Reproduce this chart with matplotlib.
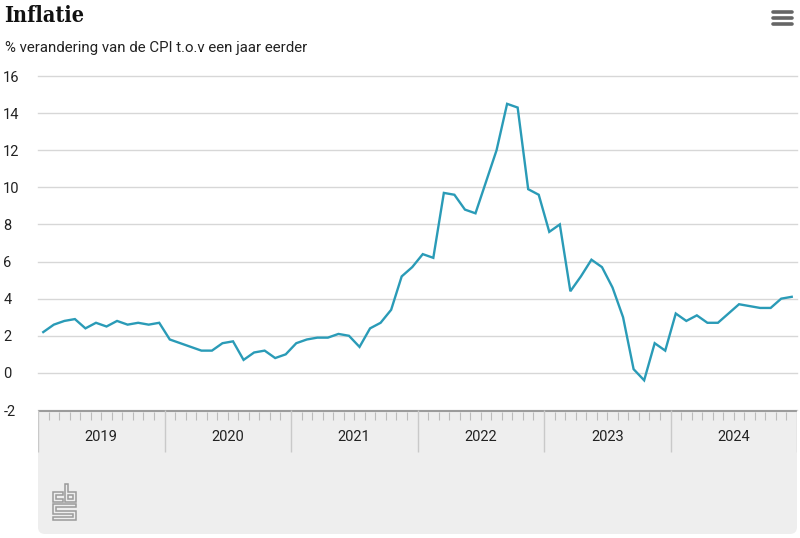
import matplotlib
matplotlib.use("Agg")
import matplotlib.pyplot as plt
import numpy as np
from matplotlib.patches import FancyBboxPatch, Rectangle, Polygon
from matplotlib.transforms import Affine2D

# CPI, % change on a year earlier, monthly Jan 2019 .. Dec 2024
years = [2019, 2020, 2021, 2022, 2023, 2024]
cpi_2019 = [2.2, 2.6, 2.8, 2.9, 2.4, 2.7, 2.5, 2.8, 2.6, 2.7, 2.6, 2.7]
cpi_2020 = [1.8, 1.6, 1.4, 1.2, 1.2, 1.6, 1.7, 0.7, 1.1, 1.2, 0.8, 1.0]
cpi_2021 = [1.6, 1.8, 1.9, 1.9, 2.1, 2.0, 1.4, 2.4, 2.7, 3.4, 5.2, 5.7]
cpi_2022 = [6.4, 6.2, 9.7, 9.6, 8.8, 8.6, 10.3, 12.0, 14.5, 14.3, 9.9, 9.6]
cpi_2023 = [7.6, 8.0, 4.4, 5.2, 6.1, 5.7, 4.6, 3.0, 0.2, -0.4, 1.6, 1.2]
cpi_2024 = [3.2, 2.8, 3.1, 2.7, 2.7, 3.2, 3.7, 3.6, 3.5, 3.5, 4.0, 4.1]
y_ticks = [-2, 0, 2, 4, 6, 8, 10, 12, 14, 16]

TITLE = "Inflatie"
SUBTITLE = "% verandering van de CPI t.o.v een jaar eerder"

LINE = "#2a9bb7"
GRID = "#d7d7d7"
BAND = "#eeeeee"
TEXT = "#222222"
FONT = ["Roboto", "DejaVu Sans"]

W, H = 800, 538
fig = plt.figure(figsize=(W / 100, H / 100), dpi=100)
fig.patch.set_facecolor("white")
PX = Affine2D().scale(1 / W, 1 / H) + fig.transFigure  # pixels, origin bottom-left


def box(x0, y0, x1, y1):
    """axes rect from pixel coords measured from the top-left."""
    return [x0 / W, 1 - y1 / H, (x1 - x0) / W, (y1 - y0) / H]


LEFT, RIGHT, TOP, BOTTOM, BAND_BOTTOM = 38, 797, 76, 410, 534

# --- grey band under the plot, with rounded bottom corners (behind the axes)
fig.patches.append(FancyBboxPatch((LEFT, H - BAND_BOTTOM), RIGHT - LEFT, BAND_BOTTOM - BOTTOM - 10,
                                  boxstyle="round,pad=0,rounding_size=7", zorder=-2,
                                  transform=PX, facecolor=BAND, edgecolor="none"))
fig.patches.append(Rectangle((LEFT, H - BOTTOM - 20), RIGHT - LEFT, 20, zorder=-2,
                             transform=PX, facecolor=BAND, edgecolor="none"))

# --- main plot
cpi = np.concatenate([cpi_2019, cpi_2020, cpi_2021, cpi_2022, cpi_2023, cpi_2024])
months = np.arange(len(cpi)) + 0.5

ax = fig.add_axes(box(LEFT, TOP, RIGHT, BOTTOM))
ax.set_facecolor("none")
ax.plot(months, cpi, color=LINE, lw=1.7, solid_joinstyle="miter", zorder=3)
ax.set_xlim(0, 12 * len(years))
ax.set_ylim(y_ticks[0], y_ticks[-1])
ax.set_yticks(y_ticks)
ax.set_yticklabels([str(v) for v in y_ticks], fontsize=10.5, color=TEXT, family=FONT)
ax.tick_params(axis="y", length=0, pad=25)
for lbl in ax.get_yticklabels():
    lbl.set_ha("left")
ax.set_xticks([])
ax.grid(axis="y", color=GRID, lw=1)
for gl in ax.get_ygridlines():
    gl.set_clip_on(False)
for s in ax.spines.values():
    s.set_visible(False)

# --- time axis in the band
bx = fig.add_axes(box(LEFT, BOTTOM, RIGHT, BAND_BOTTOM))
bx.set_facecolor("none")
bx.set_xlim(0, 12 * len(years))
bx.set_ylim(BAND_BOTTOM - BOTTOM, 0)
bx.axis("off")
bx.axhline(0, color="#9c9c9c", lw=2.2)
minor = [m for m in range(1, 12 * len(years)) if m % 12]
bx.vlines(minor, 1.5, 10, color="#bcbcbc", lw=0.8)
bx.vlines(np.arange(len(years) + 1) * 12, 0, 42, color="#c9c9c9", lw=1)
for k, yr in enumerate(years):
    bx.text(12 * k + 6, 27, str(yr), ha="center", va="center",
            fontsize=10.5, color=TEXT, family=FONT)

# --- cbs logo (rough)
lx, ly = 53, 484
logo = [
    [(10, 8), (0, 8), (0, 18), (10, 18), (10, 15), (3, 15), (3, 11), (10, 11)],
    [(12, 0), (12, 18), (23, 18), (23, 8), (15, 8), (15, 0)],
    [(15, 11), (20, 11), (20, 15), (15, 15)],
    [(0, 20), (23, 20), (23, 23), (3, 23), (3, 27), (23, 27), (23, 36),
     (0, 36), (0, 33), (20, 33), (20, 30), (0, 30)],
]
for pts in logo:
    fig.patches.append(Polygon([(lx + x, H - (ly + y)) for x, y in pts], closed=True,
                               transform=PX, facecolor="none", edgecolor="#9a9a9a", lw=1.1))

# --- titles
fig.text(4, H - 22, TITLE, transform=PX, fontsize=15.5, fontweight="bold",
         fontstretch="condensed", family="DejaVu Serif", color="#111111", va="baseline")
fig.text(5, H - 52, SUBTITLE, transform=PX, fontsize=10.8, family=FONT,
         color=TEXT, va="baseline")

# --- menu icon
for yy in (12, 18, 24):
    fig.lines.append(plt.Line2D([773, 792], [H - yy, H - yy], transform=PX,
                                color="#666666", lw=2.6, solid_capstyle="round"))

fig.savefig("out.png", dpi=100)
